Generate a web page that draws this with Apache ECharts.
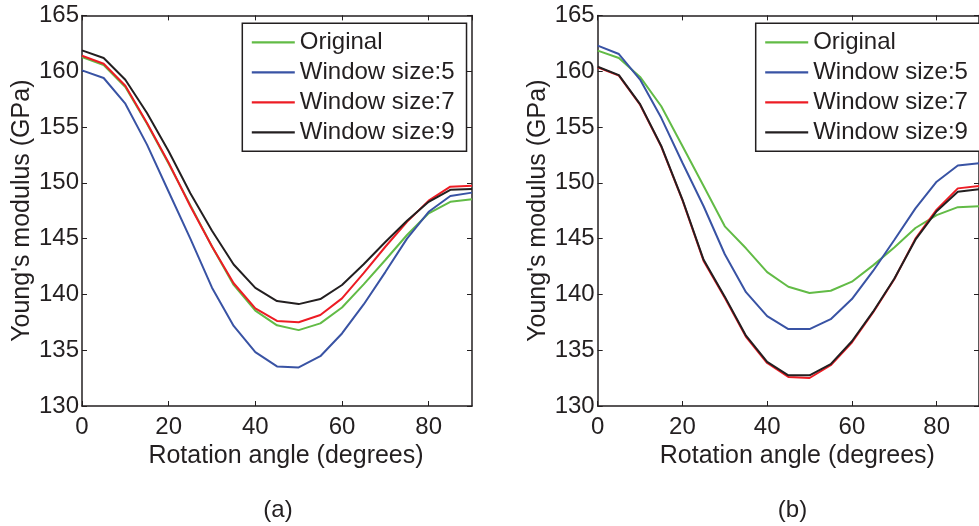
<!DOCTYPE html>
<html>
<head>
<meta charset="utf-8">
<script src="https://cdn.jsdelivr.net/npm/echarts@6/dist/echarts.min.js"></script>
<style>
html,body{margin:0;padding:0;background:#fff;overflow:hidden;}
#c{width:979px;height:526px;}
</style>
</head>
<body>
<div id="c"></div>
<script>
// Rotation angles (degrees)
const angles = [0,5,10,15,20,25,30,35,40,45,50,55,60,65,70,75,80,85,90];
const seriesNames = ['Original','Window size:5','Window size:7','Window size:9'];
const xTicks = [0,20,40,60,80];
const yTicks = [130,135,140,145,150,155,160,165];
const captions = ['(a)','(b)'];

// Panel (a)
const a_original = [161.27,160.55,158.58,155.3,151.7,148.0,144.3,140.85,138.55,137.23,136.8,137.4,138.83,140.9,143.08,145.32,147.27,148.3,148.52];
const a_win5     = [160.07,159.39,157.09,153.42,149.2,145.0,140.6,137.17,134.82,133.55,133.46,134.46,136.5,139.1,142.0,145.0,147.4,148.82,149.12];
const a_win7     = [161.39,160.67,158.7,155.36,151.8,147.9,144.3,141.0,138.75,137.62,137.5,138.16,139.64,141.9,144.27,146.5,148.4,149.65,149.74];
const a_win9     = [161.87,161.18,159.24,156.25,152.82,149.06,145.7,142.68,140.58,139.4,139.13,139.58,140.84,142.7,144.7,146.6,148.3,149.37,149.45];

// Panel (b)
const b_original = [161.84,161.18,159.49,156.86,153.29,149.71,146.1,144.13,142.0,140.69,140.12,140.33,141.14,142.6,144.2,145.95,147.1,147.82,147.9];
const b_win5     = [162.29,161.54,159.25,155.82,151.8,147.9,143.6,140.2,138.05,136.89,136.89,137.78,139.58,142.1,144.87,147.71,150.1,151.55,151.75];
const b_win7     = [160.35,159.6,157.0,153.25,148.45,143.0,139.7,136.2,133.85,132.6,132.51,133.65,135.69,138.38,141.35,145.0,147.6,149.5,149.72];
const b_win9     = [160.4,159.65,157.05,153.3,148.5,143.1,139.8,136.3,133.95,132.75,132.75,133.75,135.8,138.45,141.4,144.9,147.45,149.2,149.42];

const colors = ['#62bb46','#3953a4','#ed1c24','#231f20'];
const ink = '#231f20';
const FONT = '"Liberation Sans", Arial, sans-serif';

function pairs(vals){ return angles.map((a,i)=>[a, vals[i]]); }

const grids = [
  {left:82, top:15.4, width:390, height:390.6},
  {left:597.7, top:15.4, width:390, height:390.6}
];

const xAxes = [], yAxes = [];
for (let g=0; g<2; g++){
  xAxes.push({
    type:'value', gridIndex:g, position:'bottom', min:0, max:90, interval:20,
    name:'Rotation angle (degrees)', nameLocation:'middle', nameGap:35,
    nameTextStyle:{fontSize:25, color:ink, fontFamily:FONT, padding:[0,0,0,18]},
    axisLine:{show:true, onZero:false, lineStyle:{color:ink, width:1.5}},
    axisTick:{show:true, inside:true, length:5, lineStyle:{color:ink, width:1}},
    axisLabel:{show:true, fontSize:24, color:ink, fontFamily:FONT, margin:9, showMaxLabel:false,
      formatter:v=> xTicks.includes(v) ? String(v) : ''},
    splitLine:{show:false}
  });
  xAxes.push({
    type:'value', gridIndex:g, position:'top', min:0, max:90, interval:20,
    axisLine:{show:true, onZero:false, lineStyle:{color:ink, width:1.5}},
    axisTick:{show:true, inside:true, length:5, lineStyle:{color:ink, width:1}},
    axisLabel:{show:false}, splitLine:{show:false}
  });
  yAxes.push({
    type:'value', gridIndex:g, position:'left', min:130, max:165, interval:5,
    name:"Young's modulus (GPa)", nameLocation:'middle', nameGap:47,
    nameTextStyle:{fontSize:25, color:ink, fontFamily:FONT},
    axisLine:{show:true, onZero:false, lineStyle:{color:ink, width:1.5}},
    axisTick:{show:true, inside:true, length:5, lineStyle:{color:ink, width:1}},
    axisLabel:{show:true, fontSize:24, color:ink, fontFamily:FONT, margin:3, padding:[8,0,0,0],
      formatter:v=> yTicks.includes(v) ? String(v) : ''},
    splitLine:{show:false}
  });
  yAxes.push({
    type:'value', gridIndex:g, position:'right', min:130, max:165, interval:5,
    axisLine:{show:true, onZero:false, lineStyle:{color:ink, width:1.5}},
    axisTick:{show:true, inside:true, length:5, lineStyle:{color:ink, width:1}},
    axisLabel:{show:false}, splitLine:{show:false}
  });
}

const panels = [
  [a_original,a_win5,a_win7,a_win9],
  [b_original,b_win5,b_win7,b_win9]
];
const series = [];
panels.forEach((p,g)=>{
  p.forEach((vals,i)=>{
    series.push({
      type:'line', name:seriesNames[i], xAxisIndex:g*2, yAxisIndex:g*2,
      data:pairs(vals), symbol:'none', smooth:false, animation:false,
      lineStyle:{color:colors[i], width:2}, itemStyle:{color:colors[i]},
      z: 2+i
    });
  });
});

const legendCommon = {
  orient:'vertical', top:23.3, itemWidth:43, itemHeight:2.2, itemGap:6, icon:'rect',
  backgroundColor:'#fff', borderColor:ink, borderWidth:1.5, borderRadius:0,
  textStyle:{fontSize:24, color:ink, fontFamily:FONT, lineHeight:24},
  data:seriesNames, selectedMode:false
};

const option = {
  animation:false,
  backgroundColor:'#fff',
  grid:grids,
  xAxis:xAxes,
  yAxis:yAxes,
  legend:[
    Object.assign({}, legendCommon, {left:242.3, padding:[7,12,7,9.5]}),
    Object.assign({}, legendCommon, {left:755.7, padding:[7,12,7,9.5]})
  ],
  graphic:[
    {type:'text', x:278, y:510, style:{text:captions[0], font:'24px '+FONT, fill:ink, textAlign:'center', textVerticalAlign:'middle'}},
    {type:'text', x:792.5, y:510, style:{text:captions[1], font:'24px '+FONT, fill:ink, textAlign:'center', textVerticalAlign:'middle'}}
  ],
  series:series
};

const chart = echarts.init(document.getElementById('c'), null, {renderer:'canvas'});
chart.setOption(option);
</script>
</body>
</html>
